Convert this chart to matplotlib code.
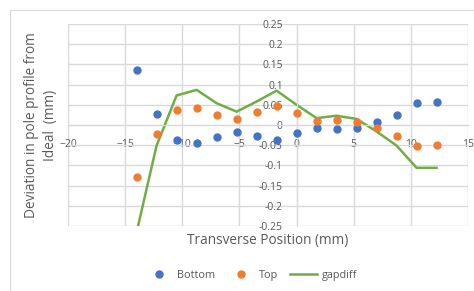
import matplotlib
matplotlib.use("Agg")
import matplotlib.pyplot as plt
from matplotlib.patches import Rectangle

plt.rcParams['font.family'] = ['Open Sans', 'DejaVu Sans']

# transverse positions (mm)
x_pos = [-14, -12.25, -10.5, -8.75, -7, -5.25, -3.5, -1.75, 0,
         1.75, 3.5, 5.25, 7, 8.75, 10.5, 12.25]
bottom = [0.137, 0.028, -0.036, -0.044, -0.029, -0.017, -0.027, -0.038, -0.021,
          -0.007, -0.011, -0.007, 0.008, 0.025, 0.054, 0.056]
top = [-0.129, -0.023, 0.037, 0.043, 0.025, 0.016, 0.031, 0.047, 0.029,
       0.010, 0.012, 0.008, -0.008, -0.026, -0.052, -0.050]
gapdiff = [-0.266, -0.051, 0.073, 0.087, 0.054, 0.033, 0.058, 0.085, 0.050,
           0.017, 0.023, 0.015, -0.016, -0.051, -0.106, -0.106]

xticks = [-20, -15, -10, -5, 0, 5, 10, 15]
yticks = [-0.25, -0.2, -0.15, -0.1, -0.05, 0, 0.05, 0.1, 0.15, 0.2, 0.25]
ytick_labels = ['-0.25', '-0.2', '-0.15', '-0.1', '-0.05', '0',
                '0.05', '0.1', '0.15', '0.2', '0.25']

txt = '#595959'
grid_c = '#d9d9d9'

fig = plt.figure(figsize=(4.74, 2.91), dpi=100)
fig.patches.append(Rectangle((10 / 474, -0.1), 1.2, 1 - 10 / 291 + 0.1,
                             transform=fig.transFigure, fill=False,
                             edgecolor='#d9d9d9', linewidth=0.8))
ax = fig.add_axes([68 / 474, 1 - 226 / 291, 400 / 474, 202 / 291])

ax.plot(x_pos, bottom, 'o', color='#4472C4', markersize=5, label='Bottom', zorder=3)
ax.plot(x_pos, top, 'o', color='#ED7D31', markersize=5, label='Top', zorder=3)
ax.plot(x_pos, gapdiff, '-', color='#70AD47', linewidth=1.8, label='gapdiff', zorder=2)

ax.set_xlim(-20, 15)
ax.set_ylim(-0.25, 0.25)
ax.set_xticks(xticks)
ax.set_yticks(yticks)
ax.set_yticklabels(ytick_labels)
ax.grid(True, color=grid_c, linewidth=1)
ax.set_axisbelow(True)

for s in ['top', 'right']:
    ax.spines[s].set_visible(False)
ax.spines['left'].set_position(('data', 0))
ax.spines['bottom'].set_position(('data', 0))
ax.spines['left'].set_color(grid_c)
ax.spines['bottom'].set_color(grid_c)
ax.tick_params(axis='both', length=0, labelsize=7.5, labelcolor=txt)
ax.tick_params(axis='x', pad=10)
ax.tick_params(axis='y', pad=10)

fig.text(41 / 474, 0.57, 'Deviation in pole profile from\nIdeal  (mm)',
         rotation=90, ha='center', va='center', fontsize=9.8, color=txt,
         linespacing=1.3)
fig.text(0.564, 1 - 233 / 291, 'Transverse Position (mm)', ha='center',
         va='top', fontsize=9.8, color=txt)

leg = fig.legend(loc='center', bbox_to_anchor=(0.53, 0.053), ncol=3,
                 frameon=False, fontsize=7.8, labelcolor=txt,
                 handlelength=2.5, columnspacing=1.15, handletextpad=0.4)

fig.savefig('out.png', dpi=100)
